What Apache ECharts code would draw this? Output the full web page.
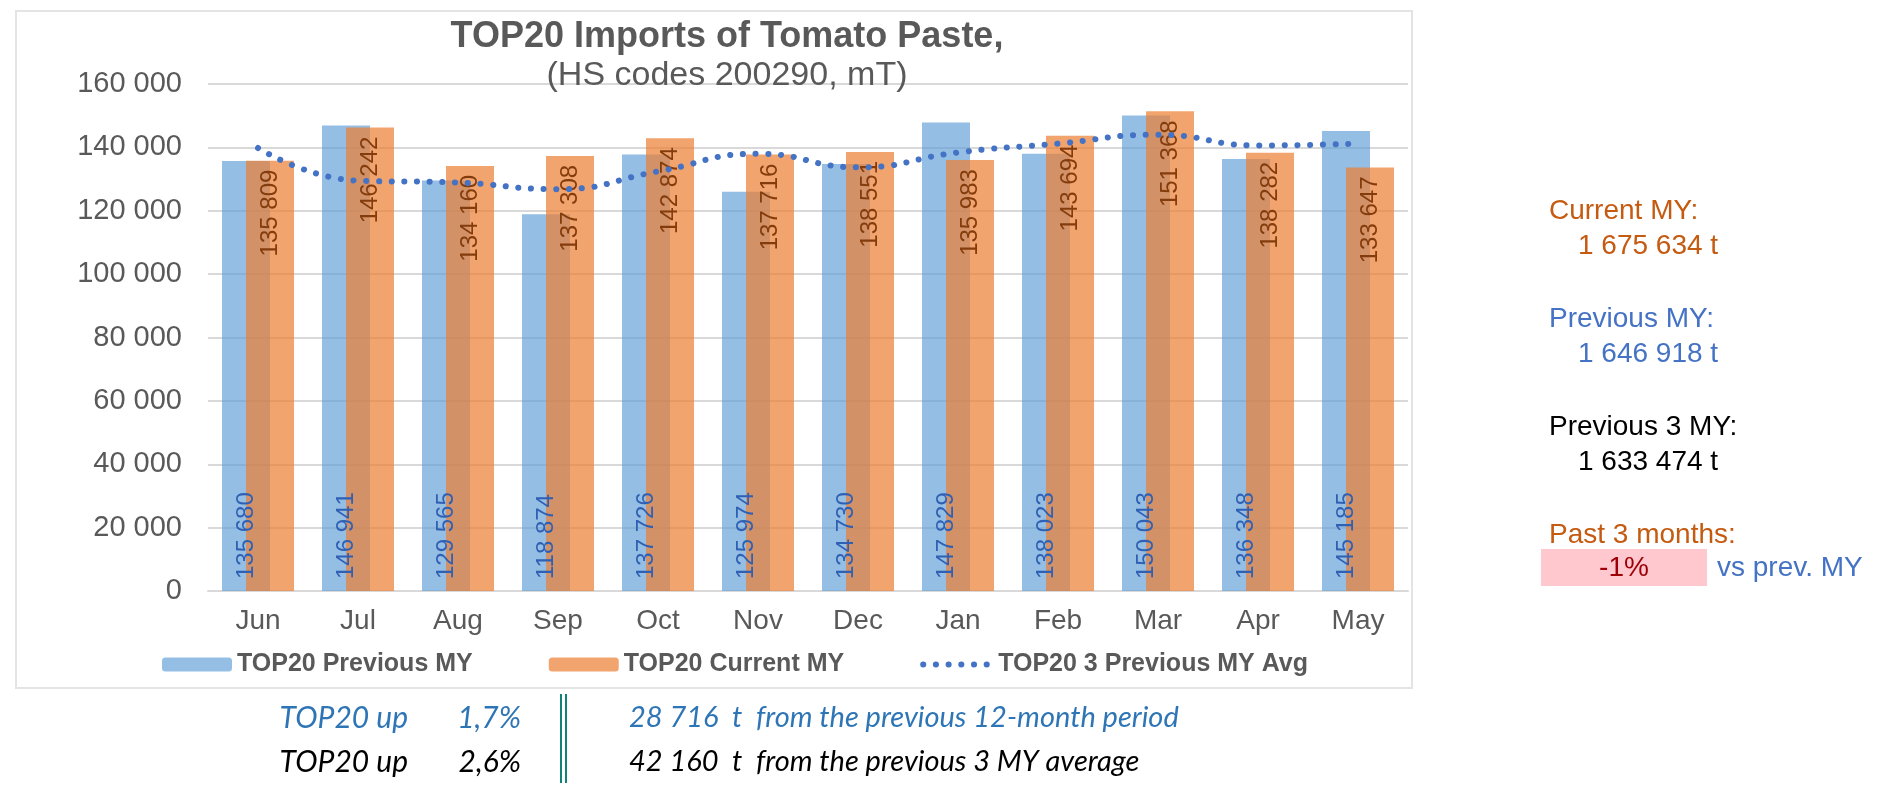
<!DOCTYPE html>
<html>
<head>
<meta charset="utf-8">
<title>TOP20 Imports of Tomato Paste</title>
<script src="https://cdn.jsdelivr.net/npm/echarts@6/dist/echarts.min.js"></script>
<style>
html, body { margin: 0; padding: 0; background: #fff; }
#chart { width: 1884px; height: 806px; }
</style>
</head>
<body>
<div id="chart"></div>
<script>
// month labels of the marketing year
var months = ['Jun', 'Jul', 'Aug', 'Sep', 'Oct', 'Nov', 'Dec', 'Jan', 'Feb', 'Mar', 'Apr', 'May'];
// tonnes
var previousMY = [135680, 146941, 129565, 118874, 137726, 125974, 134730, 147829, 138023, 150043, 136348, 145185];
var currentMY = [135809, 146242, 134160, 137308, 142874, 137716, 138551, 135983, 143694, 151368, 138282, 133647];
var prev3Avg = [139800, 129500, 128900, 126800, 132400, 138000, 133700, 138400, 141200, 144000, 140600, 141200];

var seriesNames = ['TOP20 Previous MY', 'TOP20 Current MY', 'TOP20 3 Previous MY Avg'];

// side notes
var totals = [
    ['Current MY:', '1 675 634 t', '#C55A11'],
    ['Previous MY:', '1 646 918 t', '#4472C4'],
    ['Previous 3 MY:', '1 633 474 t', '#000000']
];
var past3Label = 'Past 3 months:';
var past3Value = '-1%';
var past3Suffix = 'vs prev. MY';

// footer lines
var footer = [
    ['TOP20 up', '1,7%', '28 716  t  from the previous 12-month period', '#2E75B6'],
    ['TOP20 up', '2,6%', '42 160  t  from the previous 3 MY average', '#000000']
];

function fmt(v) {
    return String(v).replace(/\B(?=(\d{3})+(?!\d))/g, ' ');
}

var myChart = echarts.init(document.getElementById('chart'));
var font = "'Liberation Sans', Arial, sans-serif";
var footFont = "Lato, 'Noto Sans', sans-serif";
var grey = '#595959';

var graphics = [];
// chart frame
graphics.push({
    type: 'rect', z: -10, silent: true,
    shape: { x: 16, y: 11, width: 1396, height: 677 },
    style: { fill: 'none', stroke: '#E4E4E4', lineWidth: 2 }
});

var rowY = [211, 319, 427];
for (var i = 0; i < totals.length; i++) {
    graphics.push({
        type: 'text', x: 1549, y: rowY[i],
        style: { text: totals[i][0], fill: totals[i][2], font: '28px ' + font, textVerticalAlign: 'middle' }
    });
    graphics.push({
        type: 'text', x: 1578, y: rowY[i] + 35,
        style: { text: totals[i][1], fill: totals[i][2], font: '28px ' + font, textVerticalAlign: 'middle' }
    });
}
graphics.push({
    type: 'text', x: 1549, y: 535,
    style: { text: past3Label, fill: '#C55A11', font: '28px ' + font, textVerticalAlign: 'middle' }
});
graphics.push({
    type: 'rect', shape: { x: 1541, y: 549, width: 166, height: 37 },
    style: { fill: '#FFC7CE' }
});
graphics.push({
    type: 'text', x: 1624, y: 568,
    style: { text: past3Value, fill: '#9C0006', font: '28px ' + font, textAlign: 'center', textVerticalAlign: 'middle' }
});
graphics.push({
    type: 'text', x: 1717, y: 568,
    style: { text: past3Suffix, fill: '#4472C4', font: '28px ' + font, textAlign: 'left', textVerticalAlign: 'middle' }
});

// footer
var footY = [718, 762];
for (var j = 0; j < footer.length; j++) {
    var c = footer[j][3];
    graphics.push({
        type: 'text', x: 408, y: footY[j],
        style: { text: footer[j][0], fill: c, font: 'italic 30px ' + footFont, textAlign: 'right', textVerticalAlign: 'middle' }
    });
    graphics.push({
        type: 'text', x: 521, y: footY[j],
        style: { text: footer[j][1], fill: c, font: 'italic 30px ' + footFont, textAlign: 'right', textVerticalAlign: 'middle' }
    });
    graphics.push({
        type: 'text', x: 629, y: footY[j],
        style: { text: footer[j][2], fill: c, font: 'italic 29px ' + footFont, textVerticalAlign: 'middle' }
    });
}
graphics.push({
    type: 'rect', shape: { x: 560, y: 694, width: 2, height: 89 }, style: { fill: '#118275' }
});
graphics.push({
    type: 'rect', shape: { x: 565, y: 694, width: 2, height: 89 }, style: { fill: '#118275' }
});

var option = {
    backgroundColor: '#fff',
    animation: false,
    textStyle: { fontFamily: font },
    title: {
        text: 'TOP20 Imports of Tomato Paste,',
        subtext: '(HS codes 200290, mT)',
        left: 722,
        textAlign: 'center',
        top: 14,
        itemGap: 4,
        textStyle: { fontSize: 36, fontWeight: 'bold', color: grey, fontFamily: font },
        subtextStyle: { fontSize: 34, color: grey, fontFamily: font }
    },
    legend: {
        left: 157,
        top: 647,
        itemWidth: 70,
        itemHeight: 14,
        itemGap: 76,
        textStyle: { fontSize: 25, fontWeight: 'bold', color: grey, fontFamily: font },
        data: [
            seriesNames[0],
            seriesNames[1],
            {
                name: seriesNames[2],
                itemStyle: { opacity: 0 },
                lineStyle: { color: '#4472C4', width: 6, type: [0.1, 12.6], cap: 'round' }
            }
        ]
    },
    grid: { left: 208, right: 476, top: 84, bottom: 215 },
    xAxis: {
        type: 'category',
        data: months,
        axisLine: { lineStyle: { color: '#D9D9D9', width: 2 } },
        axisTick: { show: false },
        axisLabel: { fontSize: 28, color: grey, margin: 16 }
    },
    yAxis: {
        type: 'value',
        min: 0,
        max: 160000,
        interval: 20000,
        axisLine: { show: false },
        axisTick: { show: false },
        axisLabel: { fontSize: 29, color: grey, margin: 26, formatter: fmt },
        splitLine: { lineStyle: { color: '#D9D9D9', width: 2 } }
    },
    graphic: graphics,
    series: [{
        name: seriesNames[0],
        type: 'bar',
        data: previousMY,
        barWidth: '48%',
        barGap: '-50%',
        itemStyle: { color: 'rgba(91,155,213,0.65)' },
        label: {
            show: true,
            position: 'insideBottom',
            rotate: 90,
            align: 'left',
            verticalAlign: 'middle',
            distance: 12,
            fontSize: 24,
            color: '#3060B4',
            formatter: function (p) { return fmt(p.value); }
        }
    }, {
        name: seriesNames[1],
        type: 'bar',
        data: currentMY,
        barWidth: '48%',
        barGap: '-50%',
        itemStyle: { color: 'rgba(237,125,49,0.7)' },
        label: {
            show: true,
            position: 'insideTop',
            rotate: 90,
            align: 'right',
            verticalAlign: 'middle',
            distance: 9,
            fontSize: 24,
            color: '#843C0C',
            formatter: function (p) { return fmt(p.value); }
        }
    }, {
        name: seriesNames[2],
        type: 'line',
        data: prev3Avg,
        smooth: true,
        symbol: 'none',
        z: 5,
        lineStyle: { color: '#4472C4', width: 6, type: [0.1, 12.6], cap: 'round' },
        itemStyle: { color: '#4472C4' }
    }]
};

myChart.setOption(option);

window.addEventListener('resize', function () {
    myChart.resize();
});
</script>
</body>
</html>
